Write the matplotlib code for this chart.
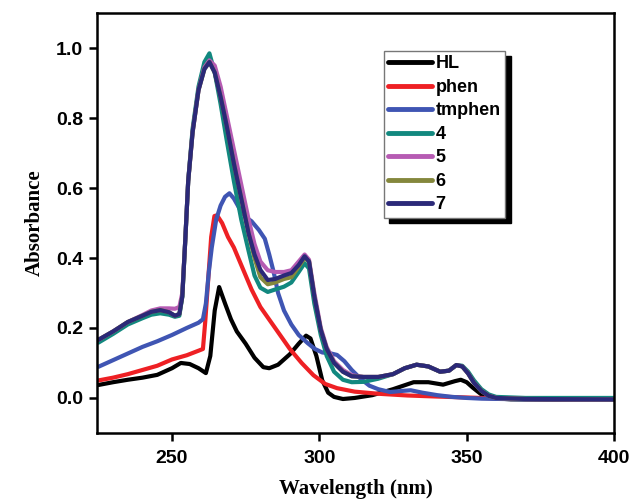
import matplotlib
matplotlib.use("Agg")
import matplotlib.pyplot as plt

# UV-Vis spectra of ligand, co-ligands and complexes 4-7
wl_hl = [225, 230, 235, 240, 245, 250, 253, 256, 259, 261.5, 263, 264.5, 266, 268, 270, 272,
         275, 278, 281, 283, 286, 290, 293, 295.5, 297, 299, 301, 303, 305, 308, 312, 318,
         325, 332, 337, 342, 346, 348, 350, 352, 355, 358, 365, 380, 400]
abs_hl = [0.037, 0.045, 0.052, 0.058, 0.066, 0.085, 0.100, 0.097, 0.085, 0.071, 0.12, 0.25,
          0.317, 0.27, 0.225, 0.19, 0.155, 0.115, 0.088, 0.085, 0.095, 0.125, 0.155, 0.178,
          0.17, 0.12, 0.05, 0.015, 0.003, -0.003, 0.0, 0.008, 0.025, 0.045, 0.045, 0.038,
          0.048, 0.052, 0.045, 0.03, 0.01, 0.0, -0.004, -0.005, -0.005]

wl_phen = [225, 230, 235, 240, 245, 250, 255, 259, 260.5, 261.3, 262.3, 263.3, 264.4, 265.3,
           267, 269, 271, 274, 277, 280, 285, 290, 294, 298, 302, 306, 312, 320, 330, 340,
           355, 370, 400]
abs_phen = [0.050, 0.058, 0.068, 0.080, 0.092, 0.110, 0.122, 0.135, 0.14, 0.22, 0.34, 0.46,
            0.52, 0.522, 0.50, 0.46, 0.43, 0.37, 0.31, 0.26, 0.20, 0.14, 0.10, 0.065, 0.04,
            0.028, 0.018, 0.012, 0.007, 0.004, 0.0, -0.003, -0.004]

wl_tm = [225, 230, 235, 240, 245, 250, 255, 259, 260.5, 261.5, 262.5, 263.5, 265, 266.5, 268,
         269.5, 271, 273, 275, 277, 279.5, 281.5, 283, 284.5, 286, 288, 290.5, 293, 296,
         298.5, 301, 303.5, 306, 308.5, 311, 314, 317, 320, 324, 328, 331, 335, 340, 345,
         350, 355, 370, 400]
abs_tm = [0.089, 0.108, 0.127, 0.146, 0.162, 0.18, 0.2, 0.215, 0.225, 0.27, 0.36, 0.43, 0.51,
          0.55, 0.575, 0.585, 0.57, 0.54, 0.517, 0.505, 0.48, 0.455, 0.41, 0.36, 0.30, 0.25,
          0.21, 0.18, 0.157, 0.14, 0.13, 0.128, 0.123, 0.105, 0.08, 0.055, 0.035, 0.025,
          0.017, 0.02, 0.022, 0.015, 0.008, 0.003, 0.0, -0.002, -0.004, -0.005]

# complexes share one wavelength grid
wl_cx = [225, 230, 235, 240, 243, 246, 249, 251, 252.5, 253.5, 254.5, 255.5, 257, 259, 261,
         262.7, 264.5, 266.5, 268.5, 271, 273.5, 276, 278, 280, 282.5, 285, 288, 290.5, 293,
         295, 296.5, 298.3, 300.5, 302.5, 305, 308, 311, 315, 320, 325, 329, 333, 337, 341,
         344, 346.5, 348.5, 350.5, 352.5, 355, 357.5, 360, 370, 400]
abs_4 = [0.158, 0.183, 0.21, 0.228, 0.238, 0.242, 0.238, 0.232, 0.235, 0.29, 0.45, 0.62, 0.77,
         0.89, 0.96, 0.985, 0.93, 0.84, 0.74, 0.62, 0.51, 0.42, 0.35, 0.315, 0.303, 0.31,
         0.318, 0.33, 0.36, 0.385, 0.37, 0.27, 0.18, 0.12, 0.075, 0.052, 0.045, 0.046, 0.055,
         0.068, 0.085, 0.095, 0.09, 0.075, 0.078, 0.094, 0.092, 0.075, 0.05, 0.025, 0.01,
         0.003, 0.0, 0.0]
abs_5 = [0.166, 0.19, 0.217, 0.237, 0.25, 0.256, 0.256, 0.255, 0.26, 0.3, 0.45, 0.62, 0.76,
         0.88, 0.945, 0.965, 0.95, 0.89, 0.81, 0.71, 0.61, 0.51, 0.44, 0.39, 0.365, 0.36,
         0.36, 0.365, 0.39, 0.41, 0.395, 0.3, 0.2, 0.145, 0.105, 0.08, 0.065, 0.06, 0.06,
         0.068, 0.085, 0.095, 0.09, 0.075, 0.078, 0.094, 0.09, 0.07, 0.043, 0.02, 0.006, 0.0,
         -0.003, -0.004]
abs_6 = [0.166, 0.19, 0.217, 0.235, 0.246, 0.251, 0.245, 0.235, 0.24, 0.29, 0.45, 0.62, 0.76,
         0.88, 0.94, 0.96, 0.93, 0.86, 0.78, 0.67, 0.57, 0.47, 0.40, 0.345, 0.325, 0.33,
         0.34, 0.345, 0.375, 0.4, 0.39, 0.29, 0.194, 0.14, 0.1, 0.075, 0.062, 0.06, 0.06,
         0.068, 0.085, 0.095, 0.09, 0.075, 0.078, 0.094, 0.09, 0.07, 0.043, 0.02, 0.006, 0.0,
         -0.003, -0.004]
abs_7 = [0.166, 0.19, 0.217, 0.235, 0.246, 0.251, 0.245, 0.235, 0.24, 0.29, 0.45, 0.62, 0.76,
         0.88, 0.94, 0.96, 0.93, 0.86, 0.78, 0.67, 0.57, 0.47, 0.41, 0.366, 0.337, 0.34, 0.35,
         0.357, 0.38, 0.405, 0.39, 0.29, 0.194, 0.14, 0.1, 0.075, 0.062, 0.06, 0.06, 0.068,
         0.085, 0.095, 0.09, 0.075, 0.078, 0.094, 0.09, 0.07, 0.043, 0.02, 0.006, 0.0, -0.003,
         -0.004]

series = [
    ("HL", wl_hl, abs_hl, "black"),
    ("phen", wl_phen, abs_phen, "#ee2024"),
    ("tmphen", wl_tm, abs_tm, "#3f55b3"),
    ("4", wl_cx, abs_4, "#12887f"),
    ("5", wl_cx, abs_5, "#b65bb3"),
    ("6", wl_cx, abs_6, "#84873c"),
    ("7", wl_cx, abs_7, "#2b2978"),
]

fig = plt.figure(figsize=(6.33, 5.04), dpi=100)
ax = fig.add_axes([0.153, 0.141, 0.817, 0.833])

for name, x, y, c in series:
    ax.plot(x, y, color=c, lw=3.0, label=name, solid_capstyle="round",
            solid_joinstyle="round")

ax.set_xlim(224.5, 400)
ax.set_ylim(-0.1, 1.1)
ax.set_xticks([250, 300, 350, 400])
ax.set_yticks([0.0, 0.2, 0.4, 0.6, 0.8, 1.0])
ax.set_yticklabels(["0.0", "0.2", "0.4", "0.6", "0.8", "1.0"])

for s in ax.spines.values():
    s.set_linewidth(1.8)
ax.tick_params(direction="out", length=6, width=1.8, pad=4)
ax.tick_params(axis="x", pad=6)
for lab in ax.get_xticklabels() + ax.get_yticklabels():
    lab.set_fontfamily("Liberation Sans")
    lab.set_fontweight("bold")
    lab.set_fontsize(14)

ax.set_xlabel("Wavelength (nm)", fontfamily="Liberation Serif", fontweight="bold",
              fontsize=15, labelpad=9)
ax.set_ylabel("Absorbance", fontfamily="Liberation Serif", fontweight="bold",
              fontsize=15, labelpad=8)

leg = ax.legend(loc="upper left", bbox_to_anchor=(0.555, 0.91), borderaxespad=0,
                fancybox=False, framealpha=1, edgecolor="#777777",
                shadow={"ox": 4, "oy": -4, "facecolor": "black",
                        "edgecolor": "black", "alpha": 1},
                prop={"family": "Liberation Sans", "weight": "bold", "size": 13},
                handlelength=2.4, handletextpad=0.2, labelspacing=0.36, borderpad=0.25)
leg.get_frame().set_linewidth(1.0)
for h in leg.get_lines():
    h.set_linewidth(3.5)

fig.savefig("out.png", dpi=100)
